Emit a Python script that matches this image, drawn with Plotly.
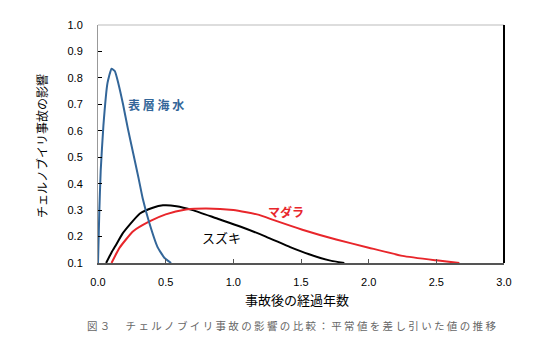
import plotly.graph_objects as go

# 表層海水 (surface seawater)
sea_x = [0.0, 0.01, 0.02, 0.04, 0.07, 0.10, 0.125, 0.15, 0.185, 0.22, 0.26, 0.30, 0.33, 0.38, 0.44, 0.49, 0.54]
sea_y = [0.1, 0.30, 0.45, 0.62, 0.78, 0.835, 0.825, 0.78, 0.70, 0.61, 0.515, 0.42, 0.345, 0.25, 0.16, 0.12, 0.1]

# スズキ (sea bass)
suzuki_x = [0.06, 0.10, 0.135, 0.18, 0.233, 0.31, 0.405, 0.48, 0.58, 0.70, 0.875, 1.05, 1.24, 1.42, 1.56, 1.71, 1.82]
suzuki_y = [0.1, 0.14, 0.17, 0.21, 0.244, 0.287, 0.309, 0.318, 0.315, 0.30, 0.269, 0.238, 0.20, 0.16, 0.133, 0.11, 0.1]

# マダラ (Pacific cod)
madara_x = [0.10, 0.16, 0.26, 0.38, 0.50, 0.65, 0.80, 1.0, 1.19, 1.30, 1.51, 1.76, 2.0, 2.25, 2.50, 2.67]
madara_y = [0.1, 0.158, 0.22, 0.257, 0.284, 0.302, 0.306, 0.30, 0.282, 0.262, 0.226, 0.189, 0.158, 0.127, 0.11, 0.1]

y_ticks = [0.1, 0.2, 0.3, 0.4, 0.5, 0.6, 0.7, 0.8, 0.9, 1.0]
x_ticks = [0.0, 0.5, 1.0, 1.5, 2.0, 2.5, 3.0]

JP = "Noto Sans CJK JP"

fig = go.Figure()
fig.add_trace(go.Scatter(x=suzuki_x, y=suzuki_y, mode="lines",
                         line=dict(color="#000000", width=2, shape="spline", smoothing=0.5)))
fig.add_trace(go.Scatter(x=madara_x, y=madara_y, mode="lines",
                         line=dict(color="#e8262b", width=2, shape="spline", smoothing=0.5)))
fig.add_trace(go.Scatter(x=sea_x, y=sea_y, mode="lines",
                         line=dict(color="#336699", width=2, shape="spline", smoothing=0.4)))

ann = [
    dict(text="<b>表 層 海 水</b>", x=0.43, y=0.70, font=dict(color="#336699", size=12, family=JP)),
    dict(text="<b>マダラ</b>", x=1.39, y=0.295, font=dict(color="#e8262b", size=12, family=JP)),
    dict(text="スズキ", x=0.915, y=0.197, font=dict(color="#000000", size=13, family=JP)),
]
annotations = [dict(a, xref="x", yref="y", showarrow=False, xanchor="center", yanchor="middle") for a in ann]
annotations += [
    dict(text="チェルノブイリ事故の影響", xref="paper", yref="paper", x=-0.139, y=0.49,
         textangle=-90, showarrow=False, xanchor="center", yanchor="middle",
         font=dict(size=12, family=JP, color="#000")),
    dict(text="事故後の経過年数", xref="paper", yref="paper", x=0.49, y=-0.152,
         showarrow=False, xanchor="center", yanchor="middle",
         font=dict(size=13, family=JP, color="#000")),
    dict(text=" ".join("図３　チェルノブイリ事故の影響の比較：平常値を差し引いた値の推移"),
         xref="paper", yref="paper", x=0.477, y=-0.262,
         showarrow=False, xanchor="center", yanchor="middle",
         font=dict(size=10.5, family=JP, color="#666666")),
]

fig.update_layout(
    width=552, height=350,
    margin=dict(l=90, r=56, t=11, b=95),
    paper_bgcolor="white", plot_bgcolor="white",
    showlegend=False,
    annotations=annotations,
    shapes=[
        dict(type="line", xref="paper", yref="paper", x0=0, x1=1, y0=1, y1=1,
             line=dict(color="#bbbbbb", width=1)),
        dict(type="line", xref="paper", yref="paper", x0=1, x1=1, y0=0, y1=1,
             line=dict(color="#000000", width=2)),
    ],
)
fig.update_xaxes(range=[0, 3.0], tickvals=x_ticks, tickformat=".1f",
                 showgrid=False, zeroline=False, showline=True, linecolor="#555555", linewidth=2,
                 ticks="inside", ticklen=4, tickcolor="#555555",
                 ticklabelstandoff=8,
                 tickfont=dict(family="Arial", size=11, color="#000"))
fig.update_yaxes(range=[0.1, 1.0], tickvals=y_ticks, tickformat=".1f",
                 showgrid=False, zeroline=False, showline=True, linecolor="#999999", linewidth=1,
                 ticks="inside", ticklen=4, tickcolor="#000000",
                 ticklabelstandoff=12,
                 tickfont=dict(family="Arial", size=11, color="#000"))

fig.write_html("out.html")
